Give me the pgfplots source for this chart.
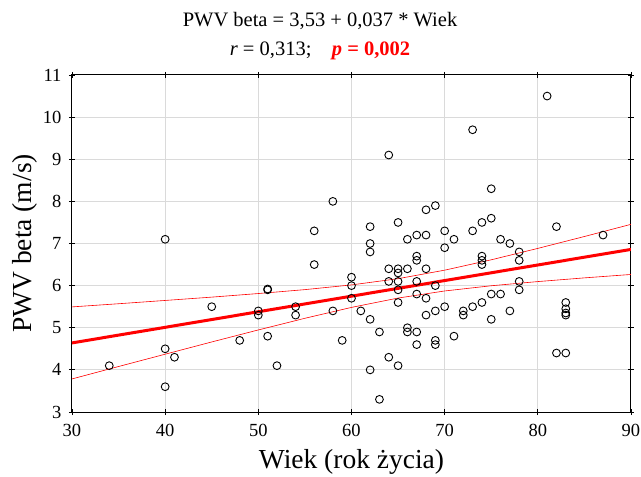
\documentclass[border=0pt]{standalone}
\usepackage{pgfplots}
\pgfplotsset{compat=1.18}
\usepackage{fontspec}
\setmainfont{Liberation Serif}

\pgfplotstableread{
x y
34 4.1
40 7.1
40 4.5
40 3.6
41 4.3
45 5.5
48 4.7
50 5.4
50 5.3
51 5.9
51 5.92
51 4.8
52 4.1
54 5.5
54 5.3
56 7.3
56 6.5
58 8.0
58 5.4
59 4.7
60 6.2
60 6.0
60 5.7
61 5.4
62 7.4
62 7.0
62 6.8
62 5.2
62 4.0
63 4.9
63 3.3
64 9.1
64 6.4
64 6.1
64 4.3
65 7.5
65 6.4
65 6.3
65 6.1
65 5.9
65 5.6
65 4.1
66 7.1
66 6.4
66 5.0
66 4.9
67 7.2
67 6.7
67 6.6
67 6.1
67 5.8
67 4.9
67 4.6
68 7.8
68 7.2
68 6.4
68 5.7
68 5.3
69 7.9
69 6.0
69 5.4
69 4.7
69 4.6
70 7.3
70 6.9
70 5.5
71 7.1
71 4.8
72 5.4
72 5.3
73 9.7
73 7.3
73 5.5
74 7.5
74 6.7
74 6.6
74 6.5
74 5.6
75 8.3
75 7.6
75 5.8
75 5.2
76 7.1
76 5.8
77 7.0
77 5.4
78 6.8
78 6.6
78 6.1
78 5.9
81 10.5
82 7.4
82 4.4
83 5.6
83 5.45
83 5.35
83 5.3
83 4.4
87 7.2
}\datatable

\pgfplotstableread{
x up lo
30 5.495 3.785
35 5.570 4.080
40 5.648 4.372
45 5.727 4.663
50 5.812 4.948
55 5.905 5.225
60 6.017 5.483
65 6.165 5.705
70 6.367 5.873
75 6.613 5.997
80 6.884 6.096
85 7.166 6.184
90 7.455 6.265
}\bandtable

\definecolor{gridgray}{RGB}{218,218,218}

\begin{document}
\begin{tikzpicture}
\path[use as bounding box] (-72pt,-65pt) rectangle (569pt,412pt);
\begin{axis}[
  scale only axis,
  width=559pt, height=337pt,
  xmin=30, xmax=90, ymin=3, ymax=11,
  xtick={30,40,...,90}, ytick={3,4,...,11},
  grid=major,
  major grid style={gridgray, line width=1pt},
  axis line style={black, line width=1pt},
  tick style={black, line width=0.8pt},
  tick align=center,
  major tick length=6pt,
  /pgf/number format/assume math mode=true,
  ticklabel style={font=\fontsize{18.5}{21}\selectfont},
  xticklabel style={yshift=-6pt},
  yticklabel style={xshift=-4pt},
  xlabel={Wiek (rok życia)},
  ylabel={PWV beta (m/s)},
  label style={font=\fontsize{27.5}{32}\selectfont},
  xlabel style={yshift=-6pt},
  ylabel style={yshift=-1pt},
  title={PWV beta = 3,53 + 0,037 * Wiek\\ \textit{r} = 0,313;\quad \textcolor{red}{\textbf{\textit{p} = 0,002}}},
  title style={at={(0.4437,1)}, align=center, font=\fontsize{20.5}{29}\selectfont, yshift=6pt},
  clip=true,
]
\addplot[only marks, mark=o, mark size=3.9pt, mark options={black, line width=0.9pt}] table[x=x,y=y] {\datatable};
\addplot[red, line width=0.6pt] table[x=x,y=up] {\bandtable};
\addplot[red, line width=0.6pt] table[x=x,y=lo] {\bandtable};
\addplot[red, line width=3pt] coordinates {(30,4.64) (90,6.86)};
\end{axis}
\end{tikzpicture}
\end{document}
